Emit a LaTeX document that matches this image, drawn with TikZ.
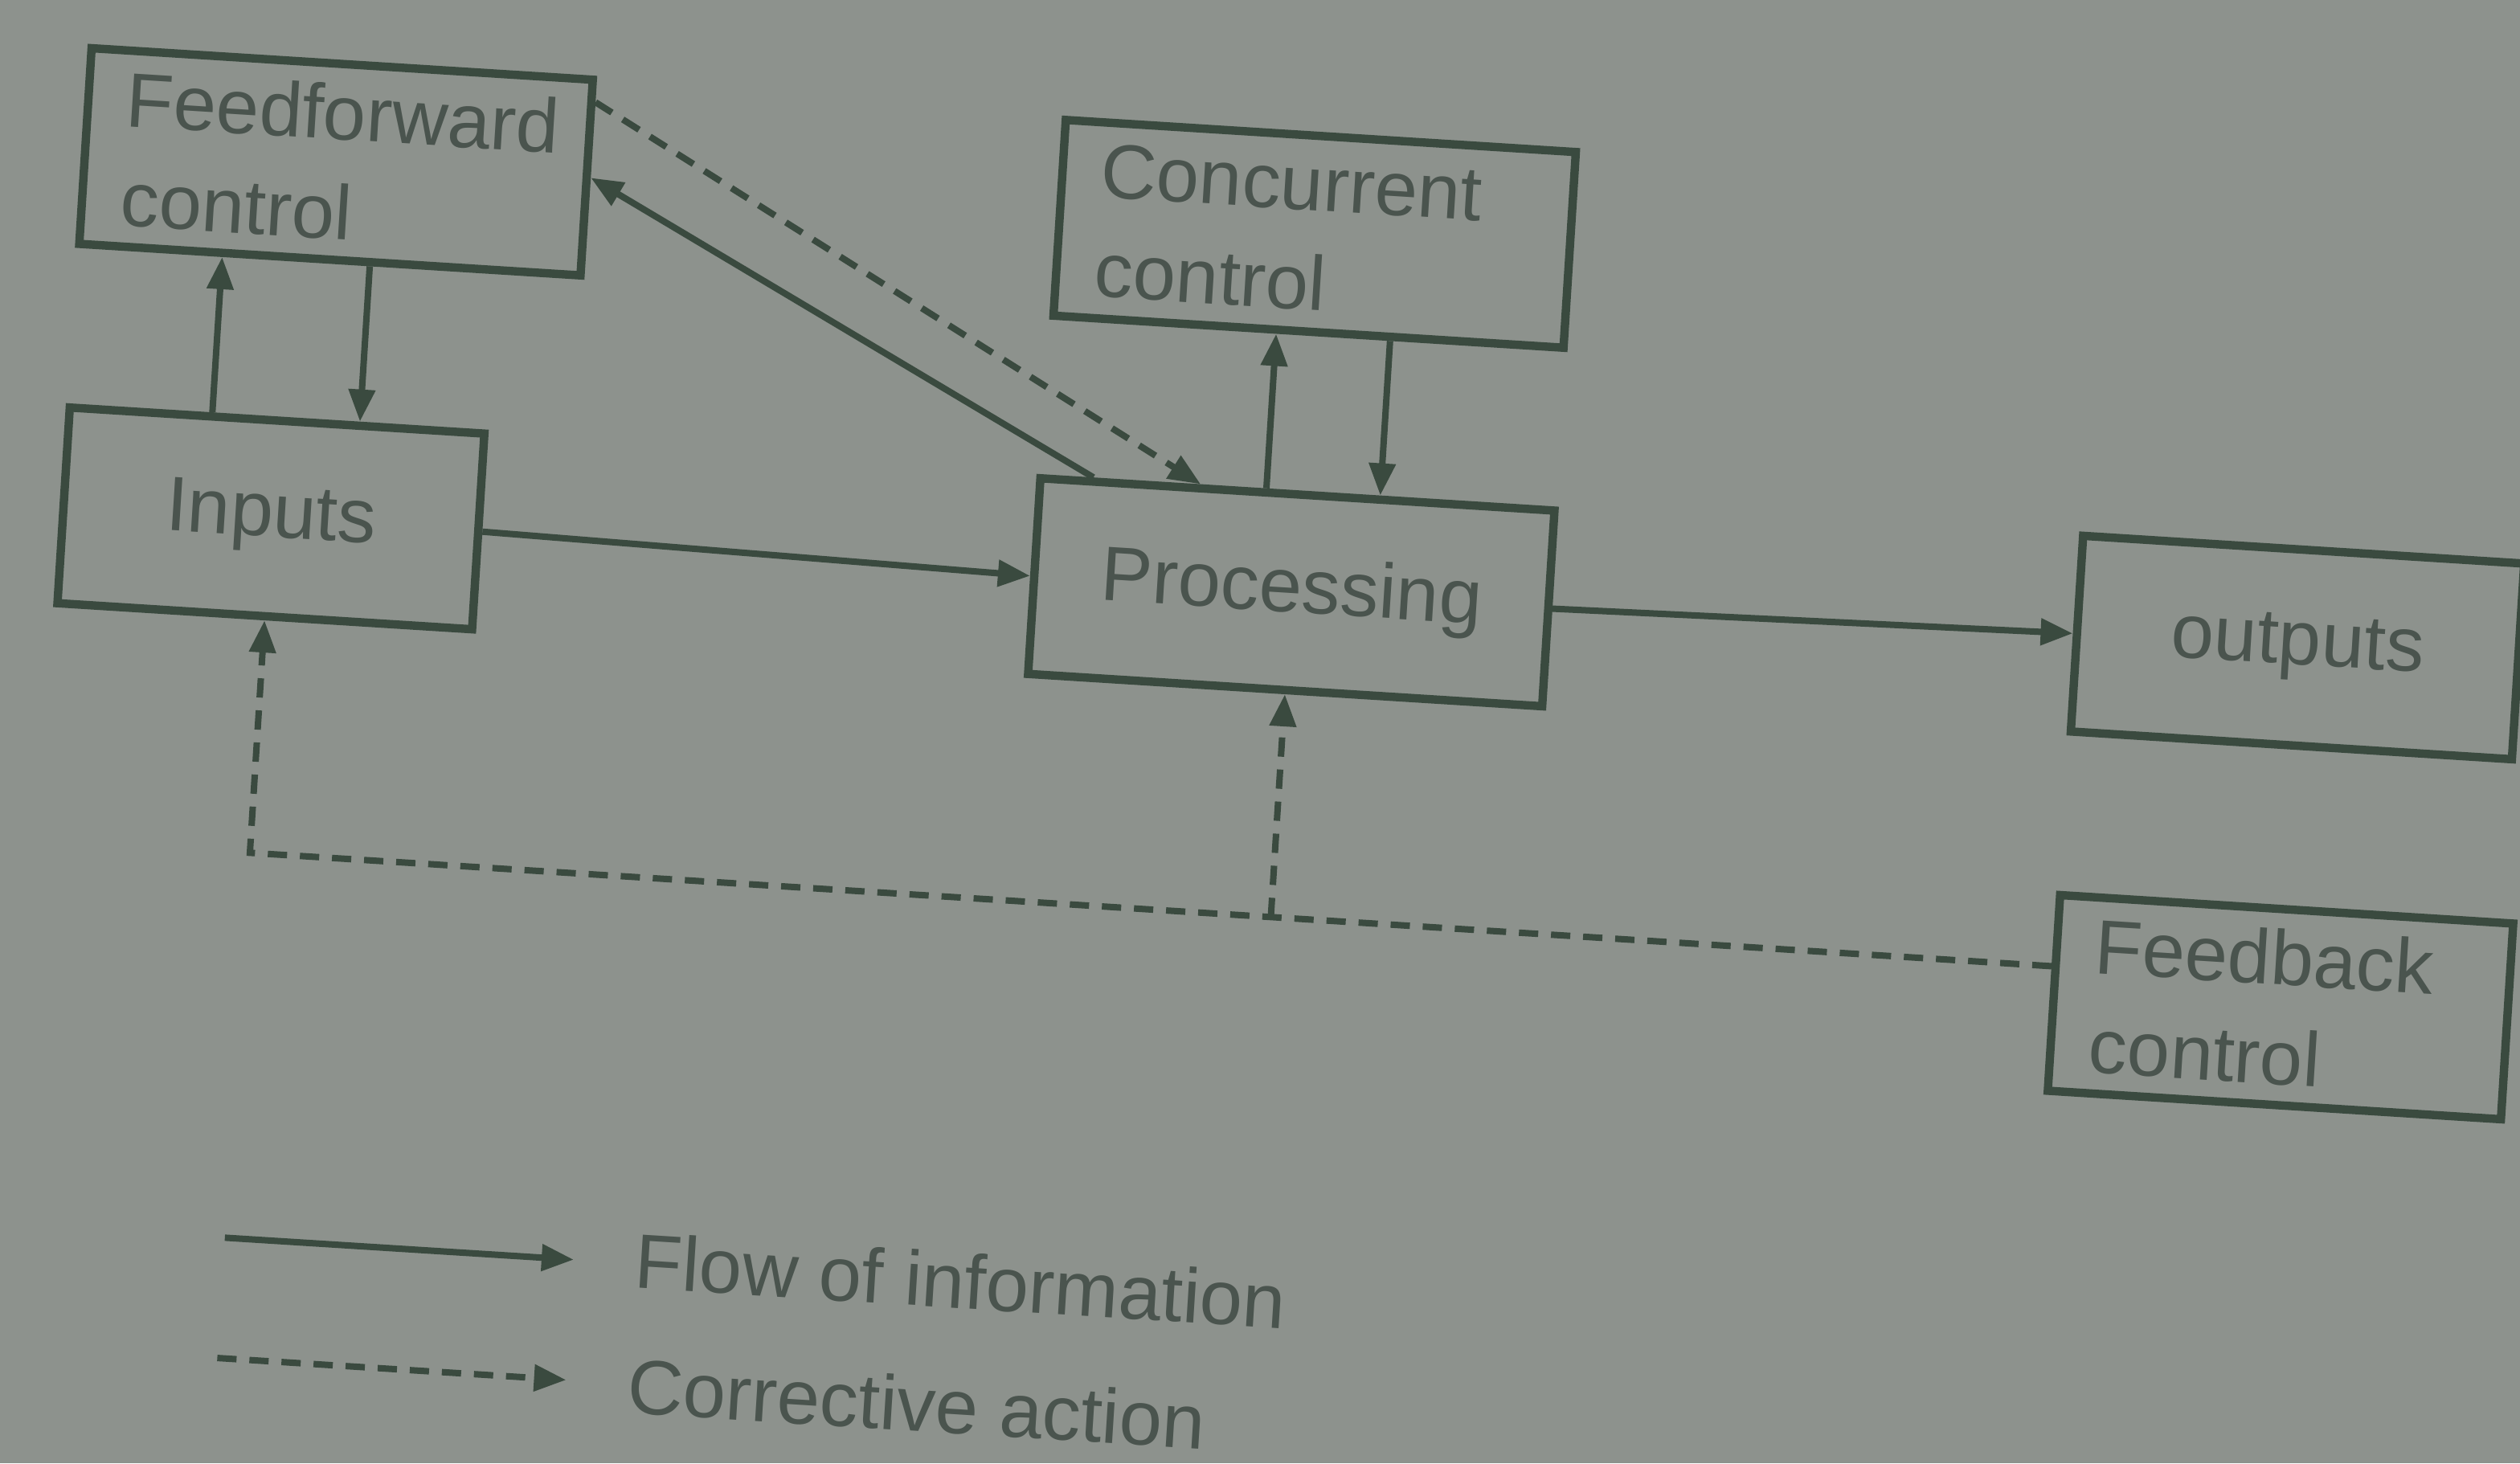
\documentclass[tikz,border=0pt]{standalone}
\usepackage{fontspec}
\setmainfont{Liberation Sans}
\usetikzlibrary{arrows.meta}
\usetikzlibrary{calc}
\definecolor{paper}{RGB}{141,146,141}
\definecolor{ink}{RGB}{58,74,63}
\definecolor{inktext}{RGB}{74,84,78}
\tikzset{every picture/.style={line width=2pt}}
\tikzset{
  block/.style={draw=ink, line width=2.6pt, rotate=-3.6, inner xsep=12pt, minimum height=61pt, text=inktext, font=\fontsize{24}{31}\selectfont},
  ctrl/.style={block, align=left, text width=#1},
  flow/.style={draw=ink, -{Triangle[length=10pt,width=8pt]}},
  corr/.style={flow, dash pattern=on 6pt off 4pt},
  key/.style={rotate=-3.6, anchor=west, inner sep=0pt, text=inktext, font=\fontsize{24}{29}\selectfont}
}

\begin{document}
\begin{tikzpicture}[x={(0.24951pt,-0.015698pt)},y={(-0.015698pt,-0.24951pt)}]
%photo frame
\useasboundingbox (-15.05pt,-24.18pt) rectangle (768.95pt,-479.43pt);
\fill[paper] (-15.05pt,-24.18pt) rectangle (768.95pt,-479.43pt);

%Shape: Rectangle [id:ff]
\node[ctrl=132.25pt] (ff) at (376,275) {Feedforward\\control};
%Shape: Rectangle [id:inp]
\node[block, minimum width=129.25pt] (inp) at (323,723) {Inputs};
%Shape: Rectangle [id:cc]
\node[ctrl=135pt] (cc) at (1597,288) {Concurrent\\control};
%Shape: Rectangle [id:proc]
\node[block, minimum width=160.25pt] (proc) at (1596,735) {Processing};
%Shape: Rectangle [id:out]
\node[block, minimum width=137.5pt] (out) at (2850,725) {outputs};
%Shape: Rectangle [id:fb]
\node[ctrl=117.25pt] (fb) at (2857,1173) {Feedback\\control};

%Straight Lines
\draw[flow] (inp.east) -- (proc.west);
\draw[flow] (proc.east) -- (out.west);
%Straight Lines
\draw[flow] ($(inp.north)+(-81,0)$) -- ($(ff.south)+(-134,0)$);
\draw[flow] ($(ff.south)+(50,0)$) -- ($(inp.north)+(103,0)$);
%Straight Lines
\draw[flow] ($(proc.north)+(-39,0)$) -- ($(cc.south)+(-40,0)$);
\draw[flow] ($(cc.south)+(102,0)$) -- ($(proc.north)+(103,0)$);
%Straight Lines
\draw[flow] ($(proc.north west)+(71,0)$) -- (ff.east);
\draw[corr] ($(ff.north east)+(0,33)$) -- ($(proc.north)+(-121,0)$);
%Straight Lines
\coordinate (fbk) at ($(fb.west)+(0,-33)$);
\coordinate (turn) at (323,1140);
\coordinate (tap) at (1596,1140);
\draw[corr] (fbk) -- (turn) -- (inp.south);
\draw[corr] (tap) -- (proc.south);

% Text Node
\coordinate (k1a) at (322,1620);
\coordinate (k1b) at (757,1620);
\draw[flow] (k1a) -- (k1b);
\node[key] (k1) at (830,1616) {Flow of information};
% Text Node
\coordinate (k2a) at (322,1770);
\coordinate (k2b) at (757,1770);
\draw[corr] (k2a) -- (k2b);
\node[key] (k2) at (830,1772) {Corrective action};

\end{tikzpicture}
\end{document}
